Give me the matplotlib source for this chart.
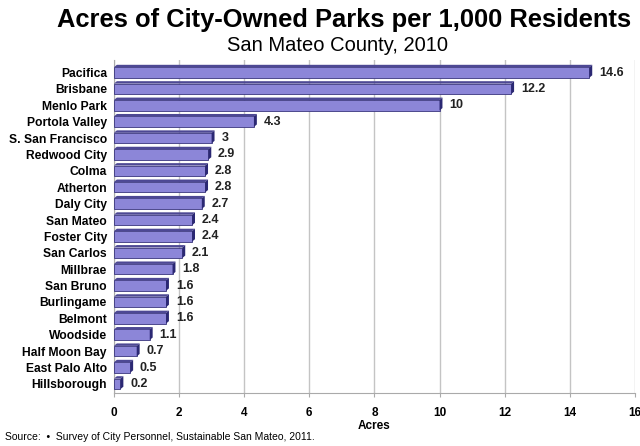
import matplotlib.pyplot as plt
from matplotlib.patches import Polygon

# data
cities = ['Pacifica', 'Brisbane', 'Menlo Park', 'Portola Valley', 'S. San Francisco',
          'Redwood City', 'Colma', 'Atherton', 'Daly City', 'San Mateo', 'Foster City',
          'San Carlos', 'Millbrae', 'San Bruno', 'Burlingame', 'Belmont', 'Woodside',
          'Half Moon Bay', 'East Palo Alto', 'Hillsborough']
acres = [14.6, 12.2, 10, 4.3, 3, 2.9, 2.8, 2.8, 2.7, 2.4, 2.4, 2.1, 1.8, 1.6, 1.6, 1.6,
         1.1, 0.7, 0.5, 0.2]
xticks = [0, 2, 4, 6, 8, 10, 12, 14, 16]

plt.rcParams['font.family'] = ['Liberation Sans', 'DejaVu Sans']

fig = plt.figure(figsize=(6.4, 4.46), dpi=100)
ax = fig.add_axes([0.178, 0.119, 0.814, 0.746])

face = '#8c86d8'
top_c = '#4d4894'
cap_c = '#2b2873'
h = 0.64
dx = 0.09
dy = 0.15

ypos = list(range(len(cities)))
ax.barh(ypos, acres, height=h, color=face, edgecolor='#3a367e', linewidth=0.6, zorder=3)
for y, v in zip(ypos, acres):
    top = y - h / 2
    # top face
    ax.add_patch(Polygon([(0, top), (v, top), (v + dx, top - dy), (dx, top - dy)],
                         closed=True, facecolor=top_c, edgecolor='none', zorder=3))
    # end cap
    ax.add_patch(Polygon([(v, top), (v + dx, top - dy), (v + dx, y + h / 2 - dy), (v, y + h / 2)],
                         closed=True, facecolor=cap_c, edgecolor='none', zorder=3))
    ax.text(v + 0.3, y, f'{v:g}', va='center', ha='left', fontsize=9,
            fontweight='bold', color='#222222', zorder=4)

ax.set_xlim(0, 16)
ax.set_ylim(len(cities) - 0.45, -0.75)
ax.set_yticks(ypos)
ax.set_yticklabels(cities, fontsize=8.7, fontweight='bold')
ax.set_xticks(xticks)
ax.set_xticklabels([str(t) for t in xticks], fontsize=8.5, fontweight='bold')
ax.tick_params(axis='y', length=0, pad=5)
ax.tick_params(axis='x', length=3, color='#aaaaaa', pad=7)
ax.xaxis.grid(True, color='#c4c4c4', linewidth=1.0, zorder=0)
ax.set_axisbelow(True)
for s in ['top', 'right']:
    ax.spines[s].set_visible(False)
ax.spines['left'].set_color('#aaaaaa')
ax.spines['bottom'].set_color('#aaaaaa')
ax.set_xlabel('Acres', fontsize=8.5, fontweight='bold', labelpad=1)

fig.text(0.538, 0.955, 'Acres of City-Owned Parks per 1,000 Residents',
         ha='center', va='center', fontsize=18.4, fontweight='bold')
fig.text(0.528, 0.899, 'San Mateo County, 2010', ha='center', va='center', fontsize=14.5)
fig.text(0.008, 0.02, 'Source:  \u2022  Survey of City Personnel, Sustainable San Mateo, 2011.',
         ha='left', va='center', fontsize=7.5)

fig.savefig('out.png', dpi=100)
